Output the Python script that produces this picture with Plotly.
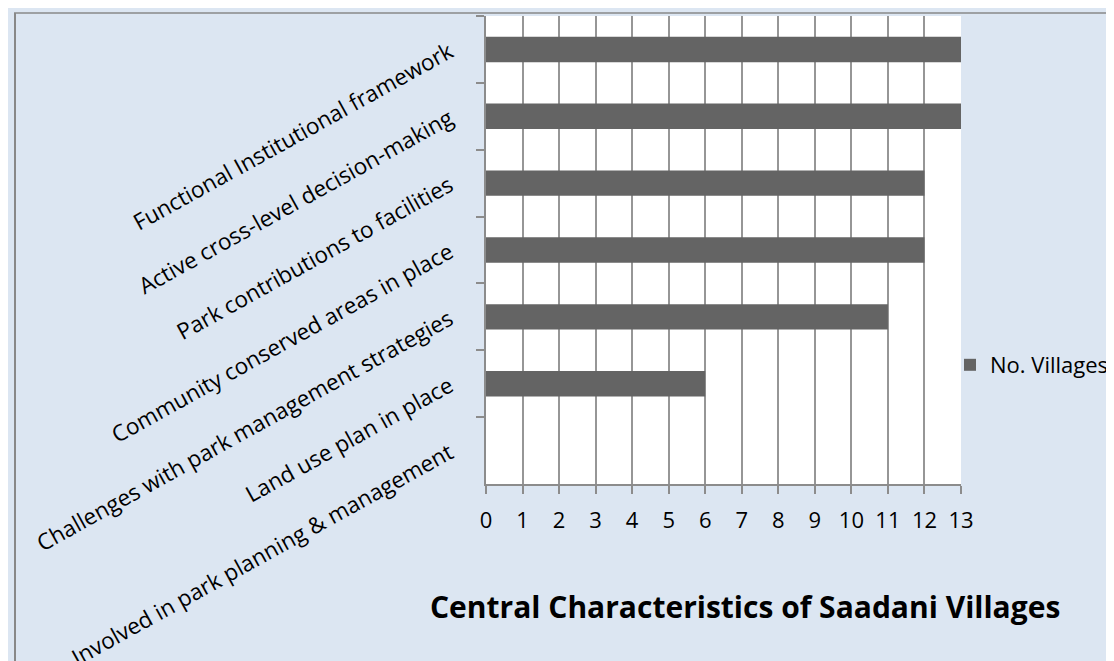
import plotly.graph_objects as go

categories = [
    "Functional Institutional framework",
    "Active cross-level decision-making",
    "Park contributions to facilities",
    "Community conserved areas in place",
    "Challenges with park management strategies",
    "Land use plan in place",
    "Involved in park planning & management",
]
villages = [13, 13, 12, 12, 11, 6, 0]
x_ticks = list(range(0, 14))
series_name = "No. Villages"
title_text = "Central Characteristics of Saadani Villages"

W, H = 1114, 661
L, R, T, B = 478, 953, 8, 476


def px_x(p):
    return (p - L) / (R - L)


def px_y(p):
    return (B - p) / (B - T)


FONT = "Open Sans"
fig = go.Figure()
fig.add_trace(go.Bar(
    y=categories, x=villages, orientation="h", name=series_name,
    marker=dict(color="#646464", line=dict(width=0)),
    showlegend=True,
))

fig.update_layout(
    width=W, height=H,
    margin=dict(l=L, r=W - R, t=T, b=H - B, autoexpand=False),
    paper_bgcolor="#dce6f2",
    plot_bgcolor="#ffffff",
    bargap=0.62,
    font=dict(family=FONT, size=21, color="#000000"),
    showlegend=True,
    legend=dict(
        x=px_x(942), y=px_y(357), xanchor="left", yanchor="middle",
        bgcolor="rgba(0,0,0,0)", font=dict(size=22, family=FONT),
        itemclick=False,
    ),
    xaxis=dict(
        range=[0, 13], tickvals=x_ticks, ticktext=[str(v) for v in x_ticks],
        showgrid=True, gridcolor="#969696", gridwidth=1.5,
        showline=True, linecolor="#8c8c8c", linewidth=2,
        ticks="outside", ticklen=8, tickwidth=2, tickcolor="#8c8c8c",
        zeroline=False, fixedrange=True,
        tickfont=dict(size=22, family=FONT),
        ticklabelstandoff=8,
    ),
    yaxis=dict(
        categoryorder="array", categoryarray=categories, autorange="reversed",
        showgrid=False, showline=True, linecolor="#8c8c8c", linewidth=2,
        ticks="outside", ticklen=8, tickwidth=2, tickcolor="#8c8c8c",
        tickson="boundaries", tickangle=-29,
        tickfont=dict(size=22.5, family=FONT),
        ticklabelstandoff=30, fixedrange=True,
    ),
    annotations=[dict(
        text="<b>" + title_text + "</b>", xref="paper", yref="paper",
        x=px_x(737), y=px_y(598), xanchor="center", yanchor="middle",
        showarrow=False, font=dict(size=30, family=FONT, color="#000000"),
    )],
    shapes=[
        dict(type="line", xref="paper", yref="paper",
             x0=px_x(7), x1=px_x(7), y0=px_y(5), y1=px_y(700),
             line=dict(color="#888888", width=2)),
        dict(type="line", xref="paper", yref="paper",
             x0=px_x(6), x1=px_x(1200), y0=px_y(5), y1=px_y(5),
             line=dict(color="#888888", width=1.5)),
    ],
)

fig.write_html("out.html")
